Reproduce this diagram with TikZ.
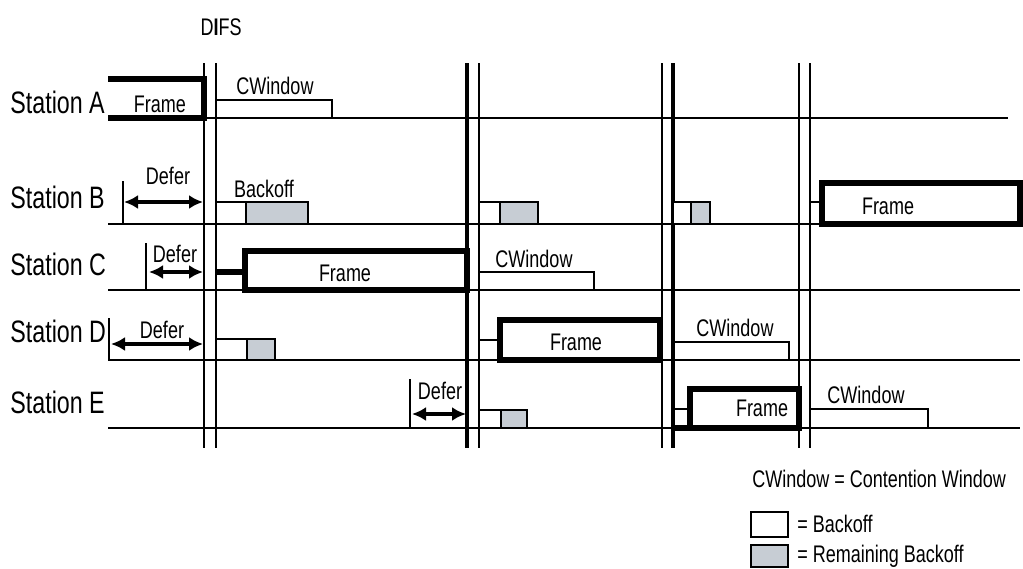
\documentclass[tikz,border=0pt]{standalone}
\usepackage{fontspec}
\setmainfont{Liberation Sans}[FakeStretch=0.75]
\usepackage{tikz}
\usetikzlibrary{arrows.meta,positioning}
\definecolor{backoffgray}{RGB}{199,205,212}

\begin{document}
\begin{tikzpicture}[x=0.5pt,y=-0.5pt,
	timeline/.style={line width=1pt},
	difsline/.style={line width=1pt},
	framebox/.style={line width=2.6pt},
	boxoff/.style={draw,line width=1pt,fill=white},
	remain/.style={draw,line width=1pt,fill=backoffgray},
	deferarrow/.style={line width=1.6pt,{Latex[length=7pt,width=7pt]}-{Latex[length=7pt,width=7pt]}},
	lbl/.style={font=\fontsize{12}{14}\selectfont,inner sep=0pt},
	station/.style={font=\fontsize{15.5}{18}\selectfont,inner sep=0pt,anchor=base west}]
	\useasboundingbox (0,0) rectangle (1023,568);
	%Station labels and time lines
	\node[station] (stA) at (10,113) {Station A};
	\node[station] (stB) at (10,208) {Station B};
	\node[station] (stC) at (10,275) {Station C};
	\node[station] (stD) at (10,342) {Station D};
	\node[station] (stE) at (10,413) {Station E};
	\draw[timeline] (108,118)--(1008,118);
	\draw[timeline] (108,224)--(1020,224);
	\draw[timeline] (108,290)--(1020,290);
	\draw[timeline] (108,360)--(1020,360);
	\draw[timeline] (108,428)--(1020,428);
	%DIFS lines
	\node[lbl] (difs) at (221,27) {D{\bfseries I}FS};
	\draw[difsline,line width=1.2pt] (204,63)--(204,448);
	\draw[difsline] (216,63)--(216,448);
	\draw[difsline,line width=2pt] (467,63)--(467,448);
	\draw[difsline] (479,63)--(479,448);
	\draw[difsline] (662,63)--(662,448);
	\draw[difsline,line width=2pt] (673,63)--(673,448);
	\draw[difsline] (799,63)--(799,448);
	\draw[difsline] (810,63)--(810,448);
	%Station A
	\draw[framebox] (108,79)--(204,79)--(204,118)--(108,118);
	\node[lbl] (frmA) at (160,104) {Frame};
	\draw[timeline] (216,100)--(332,100)--(332,118);
	\node[lbl] (cwA) at (275,86) {CWindow};
	%Station B
	\draw[timeline] (123,181)--(123,224);
	\coordinate (defB) at (124,202);
	\coordinate (difsB) at (203,202);
	\draw[deferarrow] (defB)--(difsB);
	\node[lbl] (dfB) at (168,176) {Defer};
	\draw[boxoff] (216,202) rectangle (246,224);
	\draw[remain] (246,202) rectangle (308,224);
	\node[lbl] (bkB) at (264,189) {Backoff};
	\draw[boxoff] (479,202) rectangle (500,224);
	\draw[remain] (500,202) rectangle (538,224);
	\draw[boxoff] (673,202) rectangle (691,224);
	\draw[remain] (691,202) rectangle (710,224);
	\draw[boxoff] (810,202) rectangle (822,224);
	\draw[framebox] (822,183) rectangle (1020,224);
	\node[lbl] (frmB) at (888,206) {Frame};
	%Station C
	\draw[timeline] (146,243)--(146,290);
	\coordinate (defC) at (149,272);
	\coordinate (difsC) at (203,272);
	\draw[deferarrow] (defC)--(difsC);
	\node[lbl] (dfC) at (175,254) {Defer};
	\draw[framebox] (216,272)--(245,272);
	\draw[framebox] (467,251) rectangle (245,290);
	\node[lbl] (frmC) at (345,273) {Frame};
	\draw[timeline] (479,272)--(594,272)--(594,290);
	\node[lbl] (cwC) at (534,259) {CWindow};
	%Station D
	\draw[timeline] (109,318)--(109,360);
	\coordinate (defD) at (111,344);
	\coordinate (difsD) at (203,344);
	\draw[deferarrow] (defD)--(difsD);
	\node[lbl] (dfD) at (162,330) {Defer};
	\draw[boxoff] (216,339) rectangle (247,360);
	\draw[remain] (247,339) rectangle (275,360);
	\draw[timeline] (479,340)--(500,340);
	\draw[framebox] (500,320) rectangle (660,360);
	\node[lbl] (frmD) at (576,342) {Frame};
	\draw[timeline] (673,342)--(789,342)--(789,360);
	\node[lbl] (cwD) at (735,328) {CWindow};
	%Station E
	\draw[timeline] (410,379)--(410,428);
	\coordinate (defE) at (412,414);
	\coordinate (difsE) at (466,414);
	\draw[deferarrow] (defE)--(difsE);
	\node[lbl] (dfE) at (440,391) {Defer};
	\draw[boxoff] (479,410) rectangle (501,428);
	\draw[remain] (501,410) rectangle (527,428);
	\draw[timeline] (673,409)--(690,409);
	\draw[framebox] (673,428)--(799,428)--(799,389)--(690,389)--(690,428);
	\node[lbl] (frmE) at (762,408) {Frame};
	\draw[timeline] (810,409)--(928,409)--(928,428);
	\node[lbl] (cwE) at (866,395) {CWindow};
	%Legend
	\node[lbl,anchor=base west] (cwkey) at (752,487) {CWindow = Contention Window};
	\draw[boxoff] (751,512) rectangle (788,537);
	\node[lbl,anchor=base west] (bkkey) at (797,532) {= Backoff};
	\draw[remain] (751,545) rectangle (788,567);
	\node[lbl,anchor=base west] (rmkey) at (797,562) {= Remaining Backoff};
\end{tikzpicture}
\end{document}
